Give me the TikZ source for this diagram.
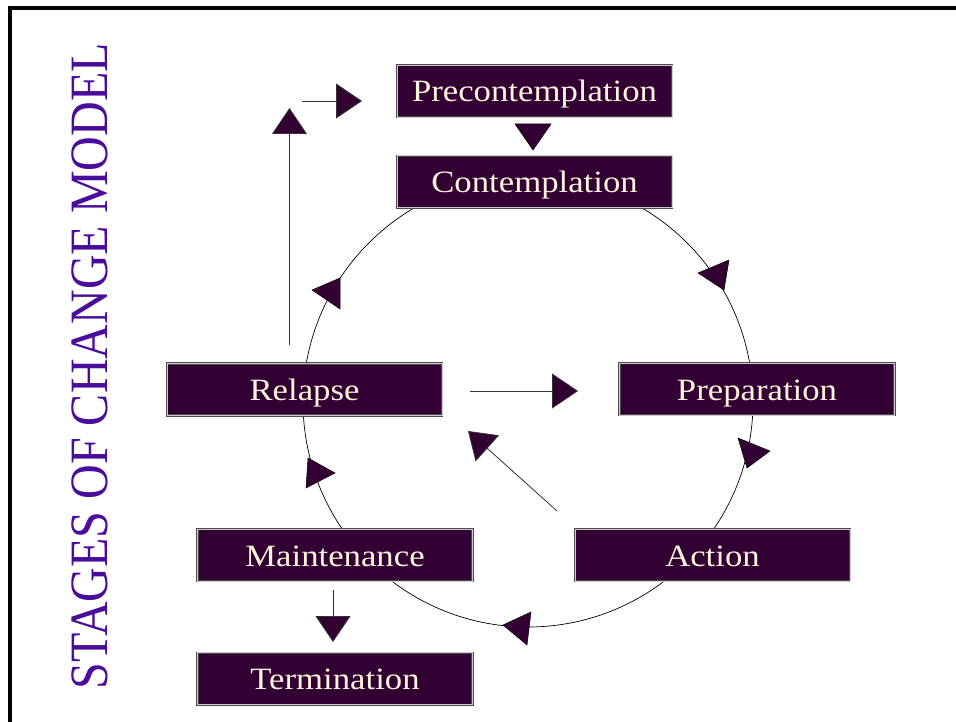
\documentclass[tikz,border=0pt]{standalone}
\usepackage{fontspec}
\setmainfont{Liberation Serif}
\newfontfamily\stagefont[FakeStretch=1.12]{Liberation Serif}
\newfontfamily\titlefont[FakeStretch=0.89]{Liberation Serif}
\usetikzlibrary{arrows.meta,positioning}
\definecolor{plum}{HTML}{330033}
\definecolor{cream}{HTML}{FFF5DC}
\definecolor{titleviolet}{HTML}{4A0C9A}
\tikzset{box/.style={draw=black!70,double=white!80!black,double distance=0.9pt,
  line width=0.8pt,fill=plum,text=cream,minimum width=275pt,minimum height=52pt,
  inner sep=0pt,text height=24pt,text depth=2pt,font=\stagefont\fontsize{31}{36}\selectfont},
  arrow/.style={-{Triangle[length=26pt,width=35pt,fill=plum]},line width=0.8pt,draw=black!80},
  head/.style={fill=plum,draw=black,line width=0.5pt}}

\begin{document}
\begin{tikzpicture}[x=1pt,y=-1pt]
\useasboundingbox (0,0) rectangle (956,722);
% frame and title
\draw[line width=3.2pt] (10,724) -- (10,8) -- (960,8);
\node[rotate=90,anchor=base,text=titleviolet,font=\titlefont\fontsize{54}{60}\selectfont]
  (title) at (107.5,366) {STAGES OF CHANGE MODEL};
% the cycle
\draw[line width=0.7pt] (528,402) circle[radius=225pt];
\node[box] (pre) at (534.5,91) {Precontemplation};
\node[box,below=38pt of pre] (con) {Contemplation};
\node[box] (prep) at (757,389) {Preparation};
\node[box] (act) at (712.5,555) {Action};
\node[box] (mai) at (335,555) {Maintenance};
\node[box] (rel) at (304.5,389.5) {Relapse};
\node[box,below=71pt of mai] (ter) {Termination};
% heads on the circle
\fill[head] (698,273) -- (729,260) -- (724,290) -- cycle;
\fill[head] (738,438) -- (770,451) -- (747,468) -- cycle;
\fill[head] (503,625) -- (531,612) -- (527,645) -- cycle;
\fill[head] (308,458) -- (335,473) -- (306,488) -- cycle;
\fill[head] (312,290) -- (340,278) -- (340,309) -- cycle;
\fill[head] (515,124) -- (551,124) -- (533,150) -- cycle;
% free arrows
\coordinate (relup) at (289.5,345);
\coordinate (reltop) at (289.5,108);
\coordinate (backin) at (302,101);
\coordinate (backtip) at (362,101);
\coordinate (relout) at (470,391);
\coordinate (preptip) at (578,391);
\coordinate (actout) at (557,511);
\coordinate (reltip) at (468,431);
\coordinate (maiout) at (333,590);
\coordinate (tertip) at (333,642);
\draw[arrow] (relup) -- (reltop);
\draw[arrow] (backin) -- (backtip);
\draw[arrow] (relout) -- (preptip);
\draw[arrow] (actout) -- (reltip);
\draw[arrow] (maiout) -- (tertip);
\end{tikzpicture}
\end{document}
